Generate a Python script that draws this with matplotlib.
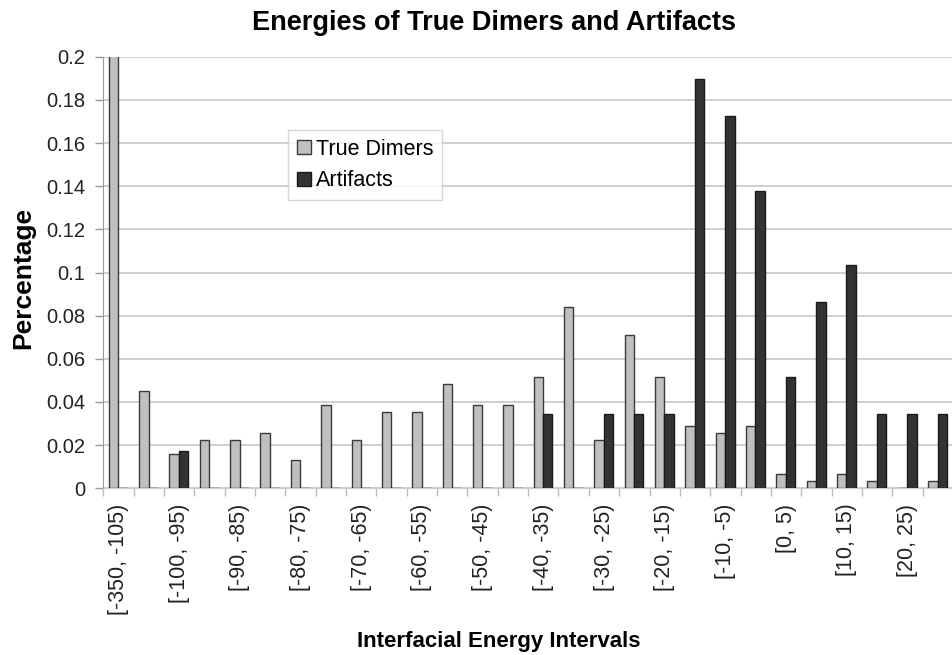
import matplotlib.pyplot as plt
import numpy as np

plt.rcParams['font.family'] = ['Liberation Sans', 'DejaVu Sans']

# interval labels, one per category
intervals = ['[-350, -105)'] + ['[%d, %d)' % (lo, lo + 5) for lo in range(-105, 30, 5)]

true_dimers = [0.2097, 0.0452, 0.0161, 0.0226, 0.0226, 0.0258, 0.0129, 0.0387,
               0.0226, 0.0355, 0.0355, 0.0484, 0.0387, 0.0387, 0.0516, 0.0839,
               0.0226, 0.0710, 0.0516, 0.0290, 0.0258, 0.0290, 0.0065, 0.0032,
               0.0065, 0.0032, 0.0, 0.0032]

artifacts = [0.0, 0.0, 0.0172, 0.0, 0.0, 0.0, 0.0, 0.0,
             0.0, 0.0, 0.0, 0.0, 0.0, 0.0, 0.0345, 0.0,
             0.0345, 0.0345, 0.0345, 0.1897, 0.1724, 0.1379, 0.0517, 0.0862,
             0.1034, 0.0345, 0.0345, 0.0345]

yticks = [0, 0.02, 0.04, 0.06, 0.08, 0.1, 0.12, 0.14, 0.16, 0.18, 0.2]
ytick_labels = ['0', '0.02', '0.04', '0.06', '0.08', '0.1', '0.12', '0.14', '0.16', '0.18', '0.2']

W, H = 953, 655
fig = plt.figure(figsize=(W / 100, H / 100), dpi=100)
ax = fig.add_axes([103.3 / W, (H - 488.3) / H, 1 - 103.3 / W, 431.6 / H])

x = np.arange(len(intervals))
bw = 0.31
ax.bar(x - 0.165, true_dimers, bw, color='#c0c0c0', edgecolor='#3a3a3a',
       linewidth=1.0, label='True Dimers', zorder=3)
ax.bar(x + 0.145, artifacts, bw, color='#333333', edgecolor='#1a1a1a',
       linewidth=1.0, label='Artifacts', zorder=3)

# chart is cut on the right like the original image
ax.set_xlim(-0.5, -0.5 + (W - 103.3) / 30.8)
ax.set_ylim(0, 0.2)

ax.set_yticks(yticks)
ax.set_yticklabels(ytick_labels)
ax.tick_params(axis='y', length=6, width=1, color='#999999', pad=7,
               labelsize=14.5, labelcolor='#222222')

# boundaries get the small ticks, every second category gets a label
ax.set_xticks(np.arange(len(intervals) + 1) - 0.5)
ax.set_xticklabels([])
ax.tick_params(axis='x', which='major', length=6, width=1, color='#bbbbbb')
ax.set_xticks(x[::2], minor=True)
ax.set_xticklabels(intervals[::2], minor=True, rotation=90, va='top', ha='center')
ax.tick_params(axis='x', which='minor', length=0, pad=11, labelsize=15.5,
               labelcolor='#222222')

ax.grid(axis='y', color='#cccccc', linewidth=1.3, zorder=0)
ax.set_axisbelow(True)
for s in ['top', 'right']:
    ax.spines[s].set_visible(False)
ax.spines['left'].set_color('#999999')
ax.spines['bottom'].set_color('#cccccc')

leg = ax.legend(loc='upper left', bbox_to_anchor=(0.2177, 0.830), fontsize=15.5,
                frameon=True, fancybox=False, edgecolor='#cccccc',
                handlelength=0.65, handleheight=0.65, handletextpad=0.25,
                borderpad=0.4, labelspacing=0.5, borderaxespad=0)
leg.get_frame().set_linewidth(1.0)

fig.text(494 / W, 1 - 22.5 / H, 'Energies of True Dimers and Artifacts',
         ha='center', va='center', fontsize=19.5, fontweight='bold')
fig.text(499 / W, 1 - 641 / H, 'Interfacial Energy Intervals',
         ha='center', va='center', fontsize=16, fontweight='bold')
fig.text(23 / W, 1 - 278 / H, 'Percentage', ha='center', va='center',
         rotation=90, fontsize=19, fontweight='bold')

fig.savefig('out.png', dpi=100)
